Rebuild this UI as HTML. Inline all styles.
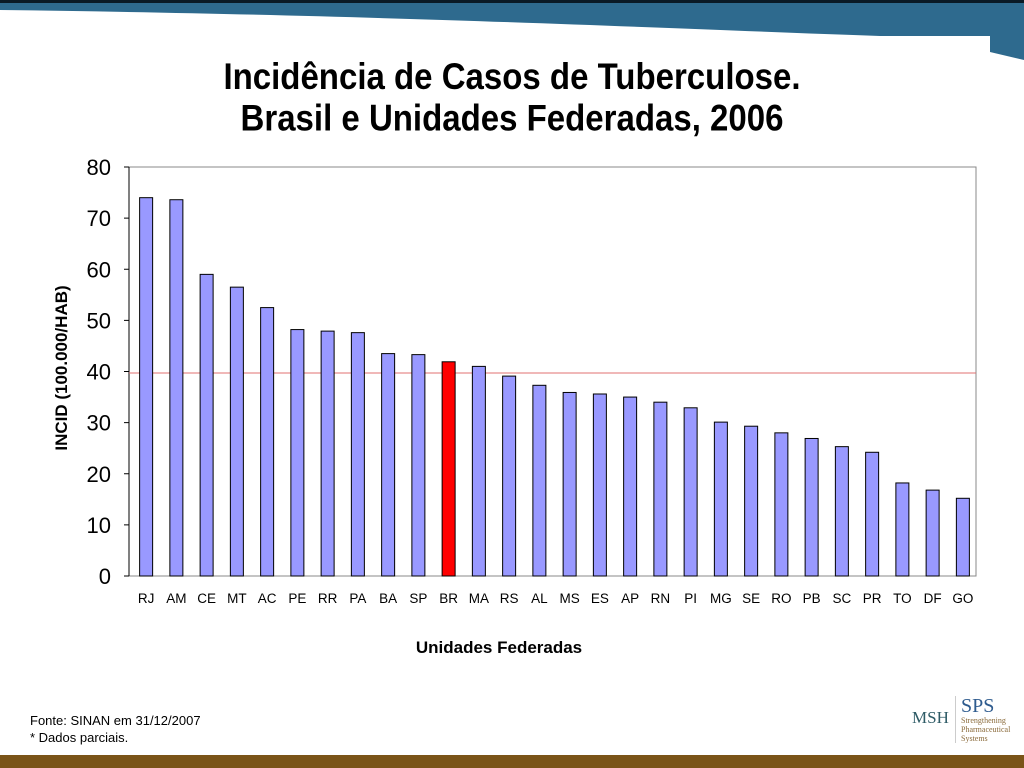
<!DOCTYPE html>
<html><head><meta charset="utf-8"><style>
body{margin:0;width:1024px;height:768px;overflow:hidden;background:#fff;font-family:"Liberation Sans",sans-serif;position:relative}
.t{position:absolute;left:0;width:1024px;text-align:center;font-weight:bold;font-size:33px;color:#000;transform:scaleY(1.12)}
</style></head><body>
<svg width="1024" height="70" style="position:absolute;left:0;top:0">
<rect x="0" y="0" width="1024" height="3" fill="#0a1a26"/>
<path d="M0,3 L1024,3 L1024,60 L990,52 L990,36 L880,36 C700,30 400,15 0,10 Z" fill="#2e6a8e"/>
</svg>
<div class="t" style="top:60px;line-height:37px">Incidência de Casos de Tuberculose.<br>Brasil e Unidades Federadas, 2006</div>
<svg id="c" width="1024" height="768" style="position:absolute;left:0;top:0"></svg>
<div style="position:absolute;left:30px;top:712px;font-size:13px;line-height:17px">Fonte: SINAN em 31/12/2007<br>* Dados parciais.</div>
<div style="position:absolute;left:912px;top:708px;font-family:'Liberation Serif',serif;font-size:17px;color:#2e5b66">MSH</div>
<div style="position:absolute;left:955px;top:696px;width:66px;border-left:1px solid #ccc;padding-left:5px;font-family:'Liberation Serif',serif;color:#2e5b8e;font-size:20px;line-height:20px">SPS<div style="font-size:8px;line-height:9px;color:#8a6a3a">Strengthening Pharmaceutical Systems</div></div>
<div style="position:absolute;left:0;top:755px;width:1024px;height:13px;background:#7a5418"></div>
<script>
const cats=["RJ","AM","CE","MT","AC","PE","RR","PA","BA","SP","BR","MA","RS","AL","MS","ES","AP","RN","PI","MG","SE","RO","PB","SC","PR","TO","DF","GO"];
const vals=[74,73.6,59,56.5,52.5,48.2,47.9,47.6,43.5,43.3,41.9,41,39.1,37.3,35.9,35.6,35,34,32.9,30.1,29.3,28,26.9,25.3,24.2,18.2,16.8,15.2];
const yTicks=[0,10,20,30,40,50,60,70,80];
const refLine=[39.7];
const highlight=["BR"];
const svg=document.getElementById('c'),NS="http://www.w3.org/2000/svg";
const L=129,R=976,T=167,B=576,ymax=80;
const y=v=>B-(B-T)*v/ymax;
const bw=(R-L)/cats.length;
const x=i=>L+2+bw*(i+0.5);
function mk(t,a,txt){const e=document.createElementNS(NS,t);for(const k in a)e.setAttribute(k,a[k]);if(txt!=null)e.textContent=txt;svg.appendChild(e);return e;}
let e=mk('rect',{x:L,y:T,width:R-L,height:B-T,fill:'#fff',stroke:'#888','stroke-width':1});


yTicks.forEach(t=>{
 let l=mk('line',{x1:L-5,x2:L,y1:y(t),y2:y(t),stroke:'#000'});
 
 
 let s=mk('text',{x:L-18,y:y(t)+8,'text-anchor':'end','font-size':22},t);
 
 
});
mk('line',{x1:L,x2:L,y1:T,y2:B,stroke:'#000'});
refLine.forEach(v=>{let l=mk('line',{x1:L,x2:R,y1:y(v),y2:y(v),stroke:'#e07070','stroke-width':1});
 
 });
cats.forEach((c,i)=>{
 let b=mk('rect',{x:x(i)-6.5,y:y(vals[i]),width:13,height:B-y(vals[i]),fill:highlight.includes(c)?'#ff0000':'#9999ff',stroke:'#000','stroke-width':1});
 
 
 let s=mk('text',{x:x(i),y:603,'text-anchor':'middle','font-size':13.5},c);
 
 
});
let xa=mk('text',{x:499,y:653,'text-anchor':'middle','font-size':17,'font-weight':'bold'},'Unidades Federadas');


let ya=mk('text',{x:0,y:0,'text-anchor':'middle','font-size':17,'font-weight':'bold',transform:'translate(67,368) rotate(-90)'},'INCID (100.000/HAB)');


</script>
</body></html>
